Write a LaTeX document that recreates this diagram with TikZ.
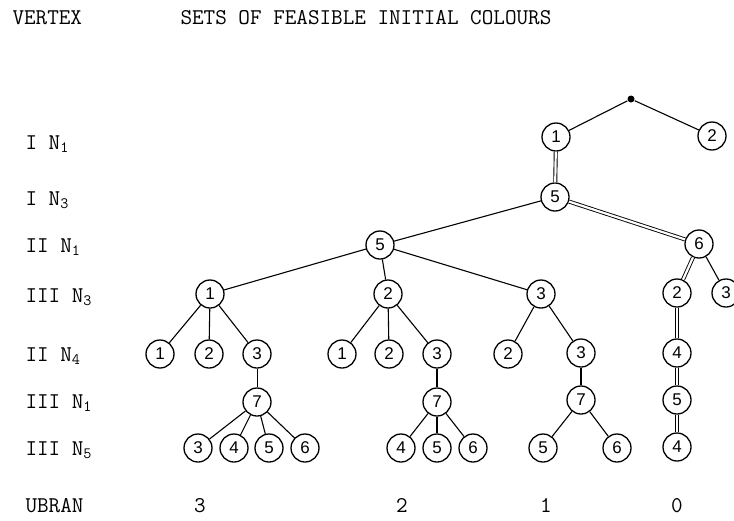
\documentclass[tikz,border=0pt]{standalone}
\usepackage{fontspec}
\setmainfont{Liberation Sans}
\newcommand{\tw}{\ttfamily\addfontfeatures{FakeBold=0.7}}
\tikzset{
  col/.style={draw, shape=circle, minimum size=28pt, inner sep=0pt, line width=1.3pt,
    font=\fontsize{17}{17}\selectfont},
  lab/.style={anchor=base west, inner sep=0pt, font=\fontsize{22.5}{22.5}\tw},
  num/.style={anchor=base, inner sep=0pt, font=\fontsize{22.5}{22.5}\tw},
  dbl/.style={double, double distance=2.2pt, line width=0.9pt},
}

\begin{document}
\begin{tikzpicture}[x=1pt, y=-1pt, line width=1.1pt]
    \useasboundingbox (0,0) rectangle (734,520);
    \node(vt)[lab] at (12,24) {VERTEX};
    \node(st)[lab] at (180,24) {SETS OF FEASIBLE INITIAL COLOURS};
    \node(l1)[lab] at (25,149) {I N\textsubscript{1}};
    \node(l2)[lab] at (25,205) {I N\textsubscript{3}};
    \node(l3)[lab] at (25,252) {II N\textsubscript{1}};
    \node(l4)[lab] at (25,302) {III N\textsubscript{3}};
    \node(l5)[lab] at (25,361) {II N\textsubscript{4}};
    \node(l6)[lab] at (25,408) {III N\textsubscript{1}};
    \node(l7)[lab] at (25,455) {III N\textsubscript{5}};
    \node(l8)[lab] at (25,512) {UBRAN};
    \node(ub3)[num] at (200,512) {3};
    \node(ub2)[num] at (402,512) {2};
    \node(ub1)[num] at (546,512) {1};
    \node(ub0)[num] at (677,512) {0};

    \node(top)[circle, fill, inner sep=0pt, minimum size=7pt] at (631,99) {};
    \node(a1)[col] at (556,137) {1};
    \node(a2)[col] at (712,136) {2};
    \node(b1)[col] at (555,197) {5};
    \node(c1)[col] at (380,245) {5};
    \node(c2)[col] at (699,244) {6};
    \node(d1)[col] at (210,294) {1};
    \node(d2)[col] at (388,294) {2};
    \node(d3)[col] at (541,294) {3};
    \node(d4)[col] at (677,293) {2};
    \node(d5)[col] at (726,293) {3};
    \node(e1)[col] at (160,354) {1};
    \node(e2)[col] at (209,354) {2};
    \node(e3)[col] at (257,354) {3};
    \node(e4)[col] at (342,354) {1};
    \node(e5)[col] at (389,354) {2};
    \node(e6)[col] at (437,354) {3};
    \node(e7)[col] at (508,354) {2};
    \node(e8)[col] at (581,353) {3};
    \node(e9)[col] at (677,353) {4};
    \node(f1)[col] at (257,402) {7};
    \node(f2)[col] at (437,402) {7};
    \node(f3)[col] at (581,400) {7};
    \node(f4)[col] at (677,400) {5};
    \node(g1)[col] at (198,448) {3};
    \node(g2)[col] at (234,448) {4};
    \node(g3)[col] at (269,448) {5};
    \node(g4)[col] at (305,448) {6};
    \node(g5)[col] at (401,448) {4};
    \node(g6)[col] at (437,448) {5};
    \node(g7)[col] at (473,448) {6};
    \node(g8)[col] at (543,448) {5};
    \node(g9)[col] at (617,448) {6};
    \node(g10)[col] at (677,447) {4};

    \draw (top) -- (a1);
    \draw (top) -- (a2);
    \draw[dbl] (a1) -- (b1);
    \draw (b1) -- (c1);
    \draw[dbl] (b1) -- (c2);
    \draw (c1) -- (d1);
    \draw (c1) -- (d2);
    \draw (c1) -- (d3);
    \draw[dbl] (c2) -- (d4);
    \draw (c2) -- (d5);
    \draw (d1) -- (e1);
    \draw (d1) -- (e2);
    \draw (d1) -- (e3);
    \draw (d2) -- (e4);
    \draw (d2) -- (e5);
    \draw (d2) -- (e6);
    \draw (d3) -- (e7);
    \draw (d3) -- (e8);
    \draw[dbl] (d4) -- (e9);
    \draw[line width=0.8pt] (e3) -- (f1);
    \draw (e6) -- (f2);
    \draw (e8) -- (f3);
    \draw[dbl] (e9) -- (f4);
    \draw (f1) -- (g1);
    \draw (f1) -- (g2);
    \draw (f1) -- (g3);
    \draw (f1) -- (g4);
    \draw (f2) -- (g5);
    \draw (f2) -- (g6);
    \draw (f2) -- (g7);
    \draw (f3) -- (g8);
    \draw (f3) -- (g9);
    \draw[dbl] (f4) -- (g10);
\end{tikzpicture}
\end{document}
